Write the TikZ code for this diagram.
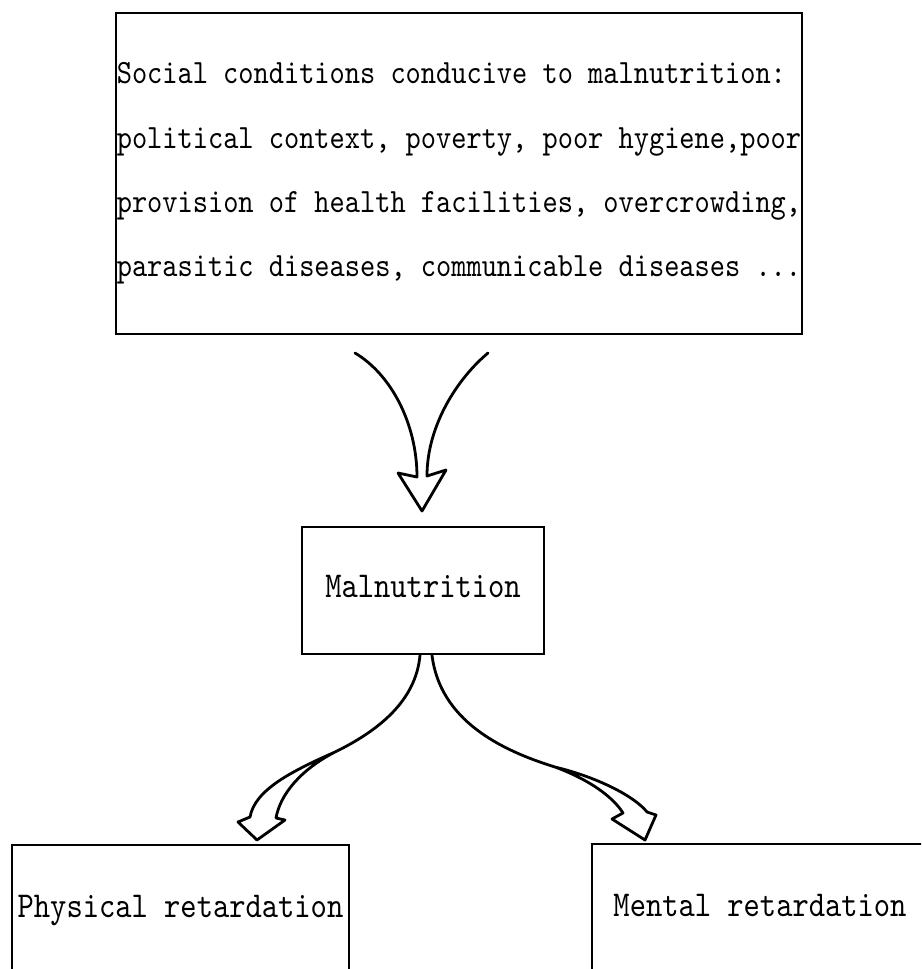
\documentclass[tikz,border=0pt]{standalone}
\usepackage{fontspec}
\usetikzlibrary{calc}
\newfontfamily\tw{lmmono10-regular.otf}[FakeStretch=0.852]
\begin{document}
\begin{tikzpicture}[x=0.5pt,y=-0.5pt,
  box/.style={draw,line width=1.2pt,inner sep=0.5pt},
  topfont/.style={font=\tw\fontsize{17pt}{32.15pt}\selectfont},
  lowfont/.style={font=\tw\fontsize{18.2pt}{22pt}\selectfont,text height=11.1pt,text depth=4pt},
  arr/.style={line width=1.4pt,line cap=round,line join=round}]
\useasboundingbox (0,0) rectangle (921,969);
\clip (0,0) rectangle (921,969);

% boxes
\node[box,topfont,align=left,minimum width=343pt,minimum height=160.5pt] (soc) at (459,173.5)
  {Social conditions conducive to malnutrition:\\political context, poverty, poor hygiene,poor\\provision of health facilities, overcrowding,\\parasitic diseases, communicable diseases ...};
\node[box,lowfont,minimum width=121pt,minimum height=63.5pt] (mal) at (423,590.5) {Malnutrition};
\node[box,lowfont,minimum width=168.5pt,minimum height=65pt] (phys) at (180.5,910) {Physical retardation};
\node[box,lowfont,minimum width=168pt,minimum height=65pt] (ment) at (760,909) {Mental retardation};

% top arrow (social conditions -> malnutrition)
\coordinate (t1) at (355,353);
\coordinate (t2) at (488,353);
\coordinate (t1e) at (417,477);
\coordinate (t2e) at (427,476);
\coordinate (t1b) at (398,473);
\coordinate (t2b) at (446,470);
\coordinate (ttip) at (422,511);
\draw[arr] (t1) .. controls (392,375) and (417,425) .. (t1e) -- (t1b) -- (ttip) -- (t2b) -- (t2e)
  .. controls (427,425) and (458,378) .. (t2);

% left lower arrow (malnutrition -> physical retardation)
\coordinate (ls) at ($(mal.south)+(-3,0)$);
\coordinate (lsplit) at (335,752);
\coordinate (lo) at (250,817);
\coordinate (lb1) at (238,822);
\coordinate (ltip) at (257,840);
\coordinate (lb2) at (285,820);
\coordinate (li) at (276,818);
\draw[arr] (ls) .. controls (416,700) and (380,730) .. (lsplit)
  .. controls (290,772) and (255,790) .. (lo) -- (lb1) -- (ltip) -- (lb2) -- (li)
  .. controls (280,795) and (300,770) .. (lsplit);

% right lower arrow (malnutrition -> mental retardation)
\coordinate (rs) at ($(mal.south)+(9,0)$);
\coordinate (rsplit) at (555,767);
\coordinate (ro) at (647,812);
\coordinate (rb2) at (656,815);
\coordinate (rtip) at (645,840);
\coordinate (rb1) at (612,819);
\coordinate (ri) at (623,813);
\draw[arr] (rs) .. controls (440,720) and (500,750) .. (rsplit)
  .. controls (600,778) and (635,797) .. (ro) -- (rb2) -- (rtip) -- (rb1) -- (ri)
  .. controls (613,797) and (590,780) .. (rsplit);
\end{tikzpicture}
\end{document}
